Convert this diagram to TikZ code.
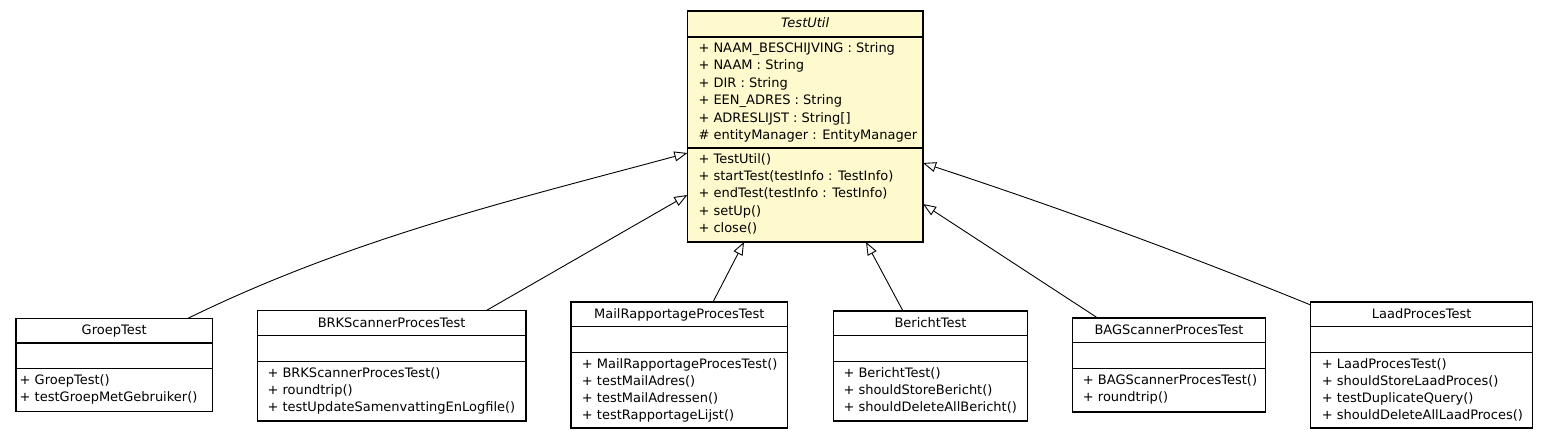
\documentclass[tikz,border=0pt]{standalone}
\usepackage{fontspec}
\setmainfont{DejaVu Sans}
\usetikzlibrary{arrows.meta}
\definecolor{utilfill}{RGB}{255,250,205}
\tikzset{
  classbox/.style={draw=black, line width=1.1pt, fill=white, anchor=north west, inner sep=0pt, outer sep=0pt},
  divider/.style={draw=black, line width=1.1pt},
  titletext/.style={anchor=base, inner sep=0pt, font=\fontsize{13}{15.6}\selectfont},
  membertext/.style={anchor=base west, inner sep=0pt, font=\fontsize{13}{15.6}\selectfont},
  inherit/.style={draw=black, line width=0.9pt, -{Triangle[length=13pt,width=10pt,fill=white,line width=0.9pt]}}
}
\newcommand\umlclass[8]{%
  \node[classbox, minimum width={#4-#2}, minimum height={#5-#3}] (#1) at (#2,#3) {};
  \draw[divider] ([yshift=-24.7pt]#1.north west) -- ([yshift=-24.7pt]#1.north east);
  \draw[divider] ([yshift=-50.5pt]#1.north west) -- ([yshift=-50.5pt]#1.north east);
  \node[titletext] (#1-t) at ({(#2+#4)/2}, {#3+16.5}) {#6};
  \foreach \m [count=\i from 0] in {#8}
    \node[membertext] (#1-m\i) at (#7, {#3+66.3+17.2*\i}) {\m};
}
\begin{document}
\begin{tikzpicture}[x=1pt, y=-1pt]
\useasboundingbox (0,0) rectangle (1549,440);

% TestUtil
\node[classbox, fill=utilfill, minimum width={923-687.3}, minimum height={242-11}] (tu) at (687.3,11) {};
\draw[divider] ([yshift=-26pt]tu.north west) -- ([yshift=-26pt]tu.north east);
\draw[divider] ([yshift=-137pt]tu.north west) -- ([yshift=-137pt]tu.north east);
\node[titletext] (tu-t) at (805.15,27.7) {\itshape TestUtil};
\node[membertext] (tu-a0) at (698.3,52.3) {+ NAAM\_BESCHIJVING : String};
\node[membertext] (tu-a1) at (698.3,69.8) {+ NAAM : String};
\node[membertext] (tu-a2) at (698.3,87.3) {+ DIR : String};
\node[membertext] (tu-a3) at (698.3,104.8) {+ EEN\_ADRES : String};
\node[membertext] (tu-a4) at (698.3,122.3) {+ ADRESLIJST : String[]};
\node[membertext] (tu-a5) at (698.3,139.8) {\# entityManager : EntityManager};
\node[membertext] (tu-m0) at (698.3,163) {+ TestUtil()};
\node[membertext] (tu-m1) at (698.3,180.4) {+ startTest(testInfo : TestInfo)};
\node[membertext] (tu-m2) at (698.3,197.8) {+ endTest(testInfo : TestInfo)};
\node[membertext] (tu-m3) at (698.3,215.2) {+ setUp()};
\node[membertext] (tu-m4) at (698.3,232.6) {+ close()};

% subclasses
\umlclass{groep}{16}{318.3}{212.3}{411.7}{GroepTest}{19.5}{+ GroepTest(), + testGroepMetGebruiker()}
\umlclass{brk}{257.3}{310.7}{526}{421}{BRKScannerProcesTest}{267.3}{+ BRKScannerProcesTest(), + roundtrip(), + testUpdateSamenvattingEnLogfile()}
\umlclass{mail}{571}{302}{787.7}{428}{MailRapportageProcesTest}{581.7}{+ MailRapportageProcesTest(), + testMailAdres(), + testMailAdressen(), + testRapportageLijst()}
\umlclass{ber}{833.3}{311}{1027.7}{421}{BerichtTest}{843.3}{+ BerichtTest(), + shouldStoreBericht(), + shouldDeleteAllBericht()}
\umlclass{bag}{1072.3}{318}{1265.7}{412}{BAGScannerProcesTest}{1082.7}{+ BAGScannerProcesTest(), + roundtrip()}
\umlclass{laad}{1310.7}{302}{1532.7}{428}{LaadProcesTest}{1321.7}{+ LaadProcesTest(), + shouldStoreLaadProces(), + testDuplicateQuery(), + shouldDeleteAllLaadProces()}

% inheritance connectors
\draw[inherit] ([xshift=172pt]groep.north west) .. controls (354,237) and (521,198) .. ([yshift=-142pt]tu.north west);
\draw[inherit] ([xshift=228.7pt]brk.north west) -- ([yshift=-184pt]tu.north west);
\draw[inherit] ([xshift=142pt]mail.north west) -- ([xshift=56.7pt]tu.south west);
\draw[inherit] ([xshift=69.7pt]ber.north west) -- ([xshift=178.7pt]tu.south west);
\draw[inherit] ([xshift=25.4pt]bag.north west) -- ([yshift=-193pt]tu.north east);
\draw[inherit] ([yshift=-3pt]laad.north west) .. controls (1183,253) and (1054,206) .. ([yshift=-152pt]tu.north east);
\end{tikzpicture}
\end{document}
